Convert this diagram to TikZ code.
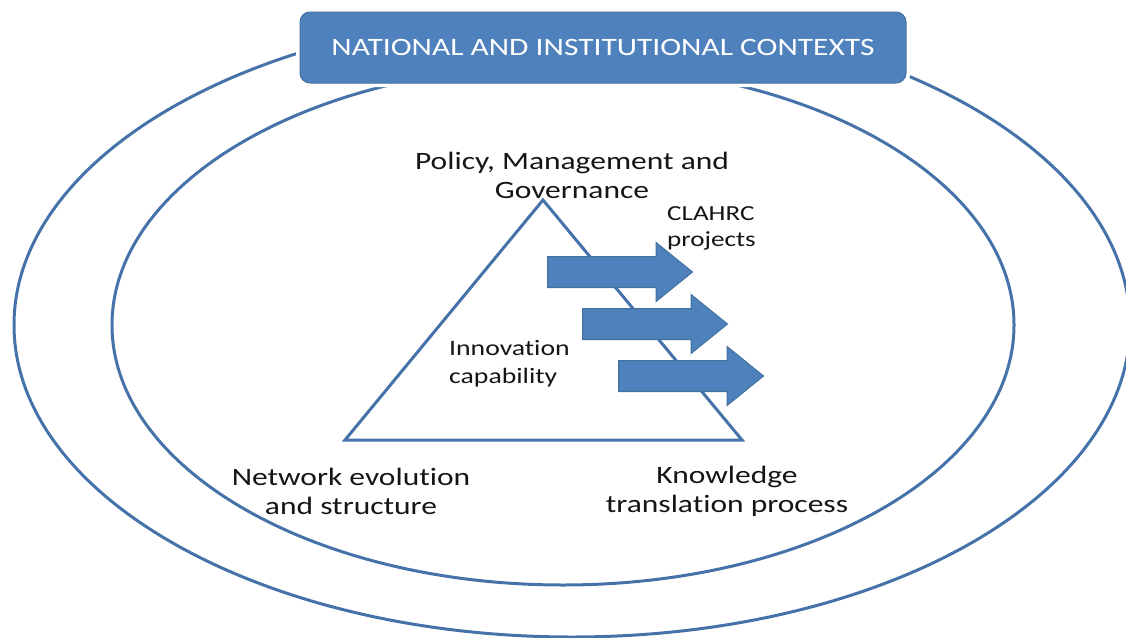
\documentclass[tikz,border=0pt]{standalone}
\usepackage{fontspec}
\setmainfont[FakeStretch=1.26, Ligatures=NoCommon]{Carlito}
\usetikzlibrary{shapes.arrows}
\definecolor{ringblue}{HTML}{4672AA}
\definecolor{boxblue}{HTML}{4F81BD}
\definecolor{boxedge}{HTML}{41719C}
\definecolor{inkgray}{HTML}{151515}
\begin{document}
\begin{tikzpicture}[x=1pt,y=-1pt,
  ring/.style={draw=ringblue, line width=3pt},
  contextbox/.style={draw=boxedge, line width=1pt, fill=boxblue, rounded corners=10pt,
    minimum width=606pt, minimum height=71pt, text=white, font=\fontsize{25}{29}\selectfont},
  label/.style={text=inkgray, font=\fontsize{25}{29}\selectfont, inner sep=0pt},
  smalllabel/.style={label, font=\fontsize{21.5}{26}\selectfont, align=left, anchor=west},
  projarrow/.style={single arrow, draw=boxedge, line width=1pt, fill=boxblue,
    minimum height=145pt, minimum width=58pt, single arrow head extend=14pt,
    single arrow tip angle=78, inner xsep=0pt, inner ysep=15pt, anchor=tail}]
\useasboundingbox (0,0) rectangle (1126,637);

% nested context rings
\draw[ring] (572,325) ellipse [x radius=558, y radius=312];
\draw[ring] (563,325) ellipse [x radius=451, y radius=260];

% title box, with a white halo that breaks the rings
\fill[white, rounded corners=12pt] (296,8) rectangle (910,87);
\node[contextbox] (ctx) at (603,47.5) {NATIONAL AND INSTITUTIONAL CONTEXTS};

% innovation capability triangle
\coordinate (apex) at (543,200);
\coordinate (bl) at (345,440);
\coordinate (br) at (742,440);
\draw[ring, line join=miter] (apex) -- (br) -- (bl) -- cycle;

% CLAHRC project arrows
\node[projarrow] (a1) at (547,272) {};
\node[projarrow] (a2) at (582,324) {};
\node[projarrow] (a3) at (618,376) {};

% labels
\node[label, align=center] (pmg) at (572,175) {Policy, Management and\\Governance};
\node[smalllabel] (clahrc) at (667,228) {CLAHRC\\projects};
\node[smalllabel, font=\fontsize{22}{28}\selectfont] (innov) at (449,364) {Innovation\\capability};
\node[label, align=center] (net) at (351,491) {Network evolution\\and structure};
\node[label, align=center] (ktp) at (727,491) {Knowledge\\translation process};
\end{tikzpicture}
\end{document}
